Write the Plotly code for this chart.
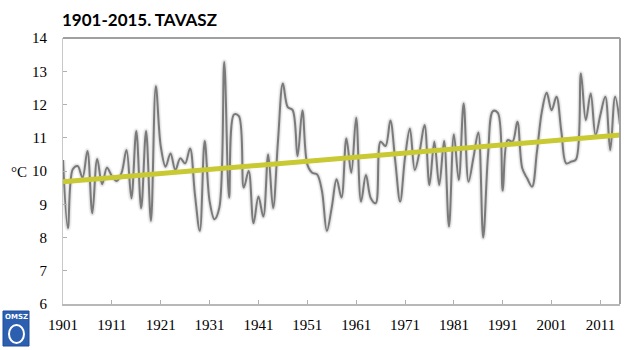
import numpy as np
import plotly.graph_objects as go

# ---- data ----
years = list(range(1901, 2016))
temps = [
    10.33, 8.28, 10.05, 10.15, 9.80, 10.60, 8.73, 10.36, 9.60, 10.10,   # 1901-1910
    9.85, 9.70, 9.95, 10.63, 9.18, 11.20, 8.88, 11.20, 8.50, 12.55,     # 1911-1920
    10.75, 10.13, 10.53, 10.03, 10.38, 10.23, 10.68, 9.30, 8.20, 10.90, # 1921-1930
    9.10, 8.55, 8.90, 13.28, 9.20, 11.70, 11.65, 9.50, 10.00, 8.43,     # 1931-1940
    9.23, 8.63, 10.50, 8.88, 10.90, 12.63, 11.92, 11.83, 10.45, 11.82,  # 1941-1950
    10.20, 9.95, 9.90, 9.40, 8.20, 8.90, 9.75, 9.20, 10.98, 9.95,       # 1951-1960
    11.60, 9.08, 9.88, 9.18, 9.03, 10.88, 10.75, 11.52, 10.30, 9.08,    # 1961-1970
    10.40, 11.27, 10.03, 10.60, 11.38, 9.58, 10.88, 9.58, 10.90, 8.33,  # 1971-1980
    11.10, 9.73, 12.03, 9.68, 10.40, 11.16, 8.00, 10.50, 11.80, 11.75,  # 1981-1990
    9.41, 10.93, 10.88, 11.48, 10.08, 9.78, 9.53, 10.58, 11.78, 12.35,  # 1991-2000
    11.83, 12.23, 11.18, 10.23, 10.28, 10.35, 12.93, 11.53, 12.33, 11.08,  # 2001-2010
    11.70, 12.23, 10.63, 12.23, 11.40,                                  # 2011-2015
]
assert len(temps) == len(years)
tick_years = list(range(1901, 2016, 10))
y_ticks = list(range(6, 15))
title_text = "1901-2015. TAVASZ"
unit_text = "°C"

# linear trend from data
coef = np.polyfit(years, temps, 1)
trend = np.polyval(coef, years)

# ---- layout geometry (pixels) ----
W, H = 640, 350
L, R, T, B = 63, 620, 38, 304


def px(x):
    return (x - L) / (R - L)


def py(y):
    return (B - y) / (B - T)


fig = go.Figure()
# soft shadow under the data line
fig.add_trace(go.Scatter(x=years, y=temps, mode="lines",
                         line=dict(color="rgba(0,0,0,0.05)", width=6, shape="spline", smoothing=1),
                         hoverinfo="skip", showlegend=False))
fig.add_trace(go.Scatter(x=years, y=temps, mode="lines",
                         line=dict(color="rgba(0,0,0,0.07)", width=3.8, shape="spline", smoothing=1),
                         hoverinfo="skip", showlegend=False))
fig.add_trace(go.Scatter(x=years, y=temps, mode="lines",
                         line=dict(color="#7a7a7a", width=2, shape="spline", smoothing=1),
                         showlegend=False))
fig.add_trace(go.Scatter(x=years, y=trend, mode="lines",
                         line=dict(color="#c9c933", width=5),
                         showlegend=False))

serif = "Liberation Serif, Times New Roman, serif"

fig.update_layout(
    width=W, height=H,
    margin=dict(l=L, r=W - R, t=T, b=H - B),
    paper_bgcolor="white", plot_bgcolor="white",
    showlegend=False,
    title=dict(text="<b>" + title_text + "</b>", x=62 / W, xref="container", xanchor="left",
               y=1 - 20 / H, yref="container", yanchor="middle",
               font=dict(family="Lato, Open Sans, sans-serif", size=17, color="black")),
    xaxis=dict(range=[years[0], years[-1]], tickmode="array", tickvals=tick_years,
               ticktext=[str(t) for t in tick_years],
               ticks="inside", ticklen=4, tickcolor="#b0b0b0", tickwidth=1,
               showline=True, linecolor="#b8b8b8", linewidth=1.5,
               showgrid=False, zeroline=False,
               tickfont=dict(family=serif, size=15, color="black"),
               ticklabelstandoff=6),
    yaxis=dict(range=[6, 14], tickmode="array", tickvals=y_ticks,
               ticks="inside", ticklen=4, tickcolor="#b0b0b0", tickwidth=1,
               showline=True, linecolor="#c8c8c8", linewidth=1,
               showgrid=False, zeroline=False,
               tickfont=dict(family=serif, size=15, color="black"),
               ticklabelstandoff=12),
)

# top and right frame lines
fig.add_shape(type="line", xref="paper", yref="paper", x0=0, x1=1, y0=1, y1=1,
              line=dict(color="#a0a0a0", width=2))
fig.add_shape(type="line", xref="paper", yref="paper", x0=1, x1=1, y0=0, y1=1,
              line=dict(color="#a0a0a0", width=2))

# unit label
fig.add_annotation(text=unit_text, xref="paper", yref="paper", x=px(19), y=py(172),
                   showarrow=False, xanchor="center", yanchor="middle",
                   font=dict(family=serif, size=15, color="black"))

# OMSZ logo (approximation)
fig.add_shape(type="rect", xref="paper", yref="paper", x0=px(3), x1=px(29), y0=py(346), y1=py(311),
              line=dict(color="#1f4e9c", width=1), fillcolor="#2d5fb0", layer="above")
fig.add_shape(type="circle", xref="paper", yref="paper", x0=px(9), x1=px(24), y0=py(343), y1=py(325),
              line=dict(color="white", width=2), fillcolor="rgba(0,0,0,0)", layer="above")
fig.add_annotation(text="<b>OMSZ</b>", xref="paper", yref="paper", x=px(16), y=py(317),
                   showarrow=False, xanchor="center", yanchor="middle",
                   font=dict(family="DejaVu Sans", size=7, color="white"))

fig.write_html("out.html")
